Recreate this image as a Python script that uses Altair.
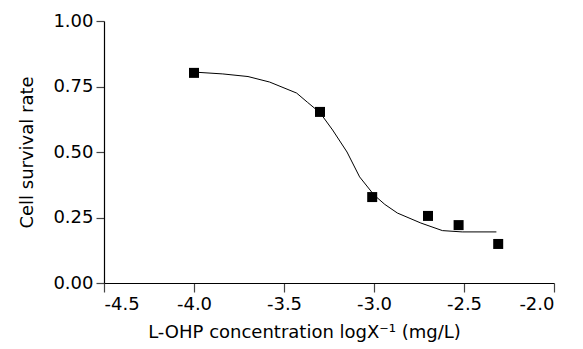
import altair as alt
import pandas as pd

# Measured points
conc = [-4.0, -3.30, -3.01, -2.70, -2.53, -2.31]
survival = [0.802, 0.653, 0.328, 0.256, 0.221, 0.149]

# Fitted curve
curve_x = [-4.0, -3.84, -3.70, -3.58, -3.43, -3.37, -3.30, -3.23, -3.15, -3.08, -3.00, -2.94, -2.87, -2.74, -2.62, -2.51, -2.32]
curve_y = [0.805, 0.798, 0.788, 0.767, 0.725, 0.690, 0.650, 0.584, 0.500, 0.405, 0.336, 0.300, 0.267, 0.229, 0.200, 0.195, 0.195]

x_ticks = [-4.5, -4.0, -3.5, -3.0, -2.5, -2.0]
y_ticks = [0, 0.25, 0.5, 0.75, 1.0]

pts = pd.DataFrame({"x": conc, "y": survival})
crv = pd.DataFrame({"x": curve_x, "y": curve_y})

FONT = "DejaVu Sans"

xscale = alt.Scale(domain=[-4.5, -2.0], nice=False, zero=False)
yscale = alt.Scale(domain=[0, 1.0], nice=False, zero=True)

xaxis = alt.Axis(title="L-OHP concentration logX⁻¹ (mg/L)", values=x_ticks,
                 format=".1f", labelExpr="replace(datum.label, '−', '-')",
                 grid=False, tickSize=9, labelPadding=3, titlePadding=10,
                 titleX=200, titleAlign="center")
yaxis = alt.Axis(title="Cell survival rate", values=y_ticks,
                 format=".2f", grid=False, tickSize=8, labelPadding=3, titlePadding=16)

line = alt.Chart(crv).mark_line(color="black", strokeWidth=1).encode(
    x=alt.X("x:Q", scale=xscale, axis=xaxis),
    y=alt.Y("y:Q", scale=yscale, axis=yaxis),
)
points = alt.Chart(pts).mark_point(shape="square", filled=True, size=100, color="black", opacity=1).encode(
    x=alt.X("x:Q", scale=xscale),
    y=alt.Y("y:Q", scale=yscale),
)

chart = (line + points).properties(
    width=450, height=262,
    background="white",
    autosize=alt.AutoSizeParams(type="none"),
    padding={"left": 96, "top": 13, "right": 21, "bottom": 66},
).configure_view(stroke=None).configure_axis(
    labelFont=FONT, titleFont=FONT, labelFontSize=18, titleFontSize=18,
    labelColor="black", titleColor="black", titleFontWeight="normal",
    domainColor="black", domainWidth=1.2, tickColor="#444444", tickWidth=1.2,
)

chart.save("out.html", embed_options={"renderer": "svg", "actions": False})
